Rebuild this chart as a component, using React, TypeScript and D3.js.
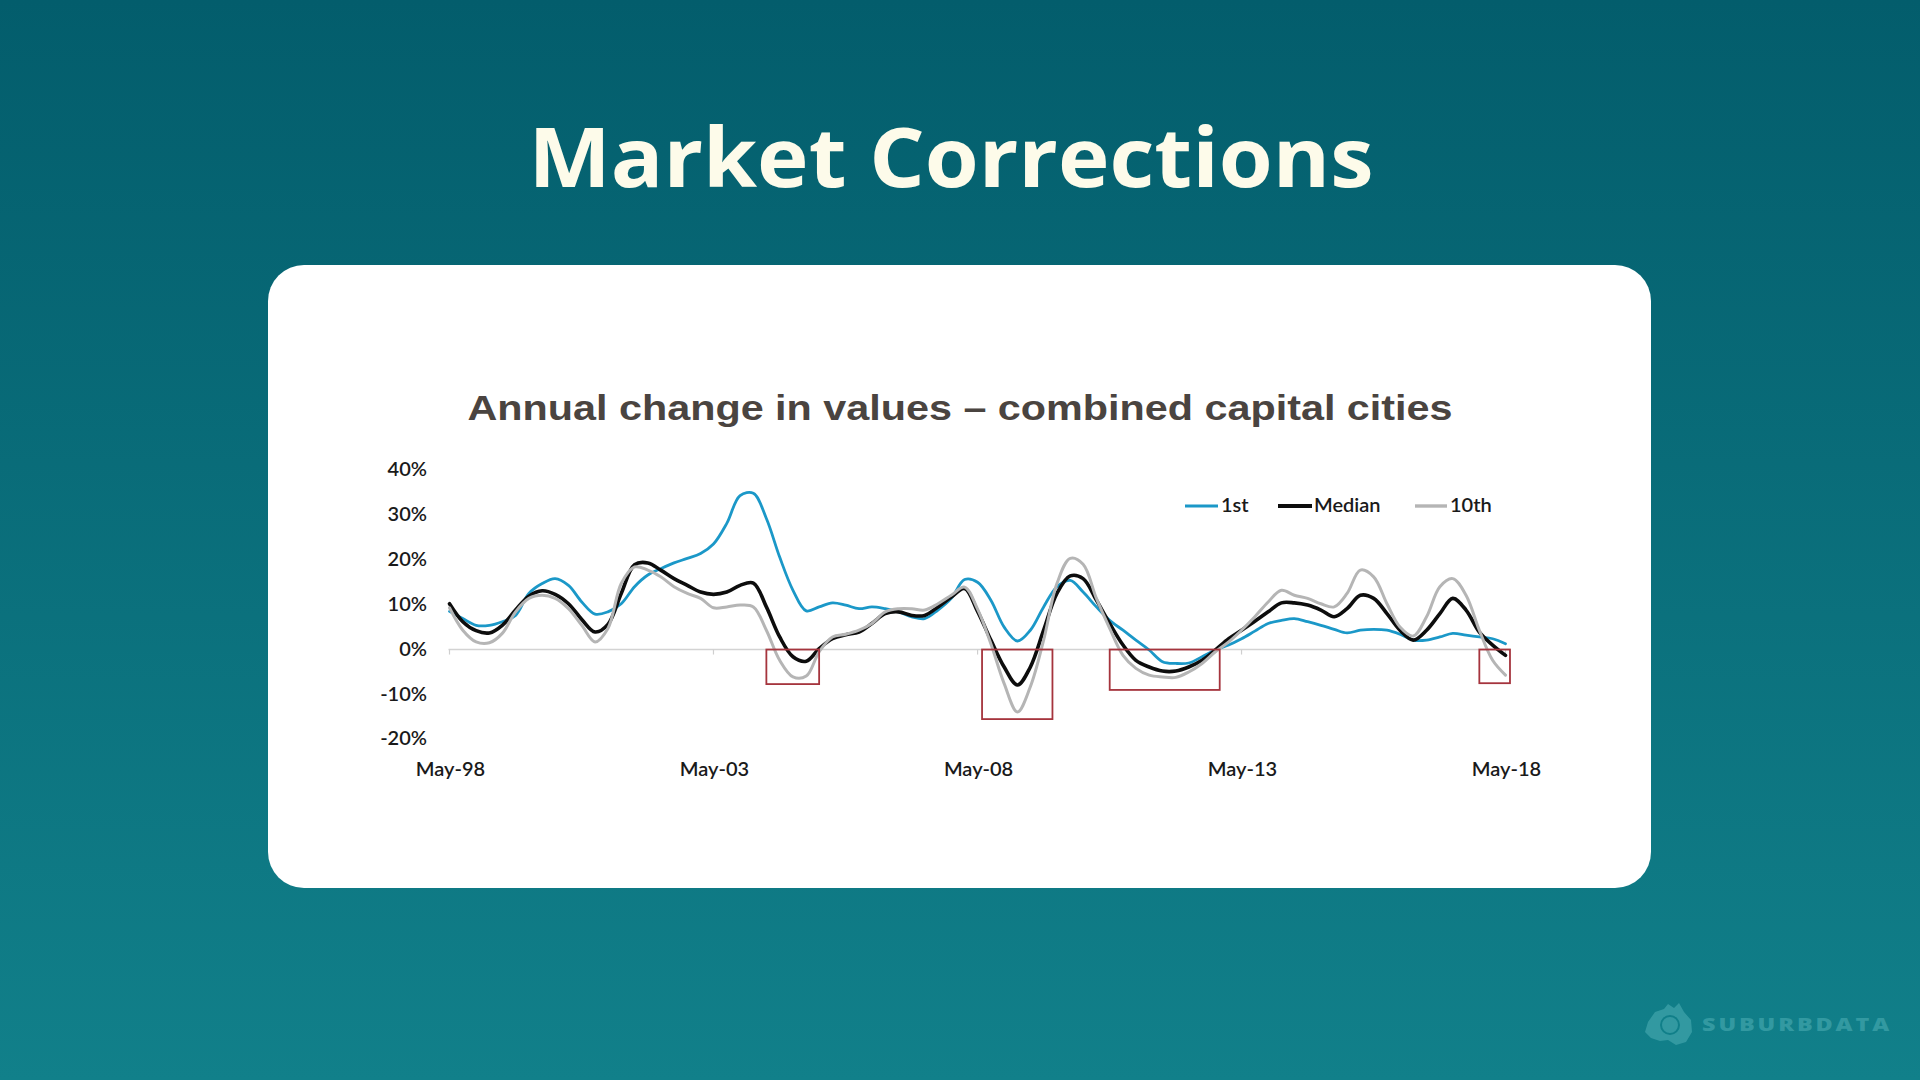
import React from "react";
import * as d3 from "d3";

// ---- data (quarterly, annual % change) ----
const dates: string[] = [
  "1998-05","1998-08","1998-11",
  "1999-02","1999-05","1999-08","1999-11",
  "2000-02","2000-05","2000-08","2000-11",
  "2001-02","2001-05","2001-08","2001-11",
  "2002-02","2002-05","2002-08","2002-11",
  "2003-02","2003-05","2003-08","2003-11",
  "2004-02","2004-05","2004-08","2004-11",
  "2005-02","2005-05","2005-08","2005-11",
  "2006-02","2006-05","2006-08","2006-11",
  "2007-02","2007-05","2007-08","2007-11",
  "2008-02","2008-05","2008-08","2008-11",
  "2009-02","2009-05","2009-08","2009-11",
  "2010-02","2010-05","2010-08","2010-11",
  "2011-02","2011-05","2011-08","2011-11",
  "2012-02","2012-05","2012-08","2012-11",
  "2013-02","2013-05","2013-08","2013-11",
  "2014-02","2014-05","2014-08","2014-11",
  "2015-02","2015-05","2015-08","2015-11",
  "2016-02","2016-05","2016-08","2016-11",
  "2017-02","2017-05","2017-08","2017-11",
  "2018-02","2018-05",
];

const first: number[] = [
  8.5, 6.9, 5.4, 5.4, 6.2, 7.6, 12.5, 14.7, 15.8, 14.3, 10.6, 7.9, 8.4, 10.2, 14.0, 16.6,
  18.0, 19.3, 20.3, 21.4, 23.5, 28.1, 34.3, 34.8, 29.2, 20.6, 13.2, 8.6, 9.5, 10.4, 9.9, 9.1,
  9.5, 9.1, 8.4, 7.3, 6.9, 8.8, 11.4, 15.6, 15.0, 11.0, 5.0, 1.9, 4.3, 9.5, 14.0, 15.4,
  12.8, 9.5, 6.5, 4.3, 2.1, -0.1, -2.7, -3.1, -3.0, -1.6, -0.1, 1.0, 2.4, 4.1, 5.8, 6.5,
  6.9, 6.2, 5.4, 4.5, 3.7, 4.3, 4.5, 4.3, 3.4, 2.1, 2.1, 2.8, 3.6, 3.2, 2.8, 2.4, 1.3,
];

const median: number[] = [
  10.2, 6.2, 4.2, 3.7, 5.4, 8.8, 11.9, 13.1, 12.3, 10.2, 6.7, 3.9, 5.6, 12.5, 18.9, 19.3,
  17.7, 15.8, 14.3, 12.8, 12.3, 12.8, 14.3, 14.8, 9.5, 2.8, -1.6, -2.6, 0.2, 2.4, 3.3, 3.9,
  5.8, 8.0, 8.4, 7.6, 7.6, 9.5, 11.7, 13.6, 8.5, 2.1, -3.9, -7.9, -3.9, 4.3, 12.5, 16.4,
  15.8, 11.0, 5.8, 1.0, -2.4, -3.9, -4.8, -4.8, -3.9, -2.4, -0.1, 2.4, 4.3, 6.3, 8.4, 10.4,
  10.4, 9.9, 8.8, 7.3, 9.1, 12.1, 11.4, 8.0, 4.3, 2.1, 4.3, 8.0, 11.4, 8.8, 3.9, 1.0, -1.3,
];

const tenth: number[] = [
  9.3, 4.3, 1.7, 1.5, 3.6, 8.4, 11.4, 12.1, 11.4, 9.1, 5.4, 1.7, 4.7, 14.7, 18.4, 17.7,
  16.2, 14.0, 12.5, 11.4, 9.3, 9.5, 9.9, 9.5, 4.3, -2.4, -6.1, -5.9, -0.5, 2.8, 3.4, 4.3,
  5.8, 8.4, 9.1, 9.1, 8.8, 10.2, 12.1, 13.9, 9.0, 1.3, -7.6, -13.9, -8.3, 2.1, 14.7, 20.3,
  19.0, 11.4, 4.7, -1.3, -4.2, -5.7, -6.1, -6.2, -5.0, -3.1, -0.5, 1.7, 4.3, 7.3, 10.6, 13.2,
  12.1, 11.4, 10.2, 9.5, 12.5, 17.7, 16.2, 10.2, 5.0, 3.0, 7.3, 14.0, 15.8, 12.1, 4.3, -2.4, -5.7,
];

const xTickDates: string[] = ["1998-05", "2003-05", "2008-05", "2013-05", "2018-05"];
const xTickLabels: string[] = ["May-98", "May-03", "May-08", "May-13", "May-18"];
const yTicks: number[] = [40, 30, 20, 10, 0, -10, -20];

// correction periods highlighted with boxes
const corrStart: string[] = ["2004-05", "2008-06", "2010-11", "2017-11"];
const corrEnd: string[] = ["2005-05", "2009-10", "2012-12", "2018-06"];
const corrLow: number[] = [-7.7, -15.5, -9.0, -7.5];

const seriesNames: string[] = ["1st", "Median", "10th"];
const seriesColors: string[] = ["#1b98c8", "#0d0d0d", "#b5b5b5"];
const seriesWidths: number[] = [2.8, 3.6, 3.0];

const parse = d3.timeParse("%Y-%m");

export default function App() {
  const W = 1920;
  const H = 1080;

  const x = d3
    .scaleTime()
    .domain([parse("1998-05") as Date, parse("2018-05") as Date])
    .range([449.5, 1505.5]);
  const y = d3.scaleLinear().domain([-20, 40]).range([739.3, 470]);

  const allSeries = [first, median, tenth];
  const line = d3
    .line<{ d: Date; v: number }>()
    .x((p) => x(p.d))
    .y((p) => y(p.v))
    .curve(d3.curveCatmullRom.alpha(0.5));

  const paths = allSeries.map((vals) =>
    line(dates.map((s, i) => ({ d: parse(s) as Date, v: vals[i] })))
  );

  const font = "Lato, 'Open Sans', sans-serif";
  const labelWeight = 600;

  // legend layout
  const legendItems = [
    { x1: 1185, x2: 1218, tx: 1221 },
    { x1: 1278, x2: 1312, tx: 1314 },
    { x1: 1415, x2: 1447, tx: 1450 },
  ];
  const legendY = 506;

  return (
    <svg
      width={W}
      height={H}
      style={{ position: "absolute", left: 0, top: 0, display: "block" }}
    >
      <defs>
        <linearGradient id="bg" x1="0" y1="0" x2="0" y2="1">
          <stop offset="0%" stopColor="#035d6c" />
          <stop offset="100%" stopColor="#11808a" />
        </linearGradient>
      </defs>
      <rect x={0} y={0} width={W} height={H} fill="url(#bg)" />

      <text
        x={951}
        y={187}
        textAnchor="middle"
        fontFamily="'Open Sans', sans-serif"
        fontWeight={700}
        fontSize={82}
        fill="#fdfbea"
        textLength={845}
        lengthAdjust="spacingAndGlyphs"
      >
        Market Corrections
      </text>

      <rect x={268} y={265} width={1383} height={623} rx={36} ry={36} fill="#ffffff" />

      <text
        x={960}
        y={420}
        textAnchor="middle"
        fontFamily="'Liberation Sans', Arial, sans-serif"
        fontWeight={700}
        fontSize={35}
        fill="#4a4440"
        textLength={985}
        lengthAdjust="spacingAndGlyphs"
      >
        Annual change in values – combined capital cities
      </text>

      {/* y labels */}
      {yTicks.map((t) => (
        <text
          key={t}
          x={427}
          y={y(t) + 1}
          textAnchor="end"
          dominantBaseline="middle"
          fontFamily={font}
          fontWeight={labelWeight}
          fontSize={20}
          fill="#1a1a1a"
        >
          {t + "%"}
        </text>
      ))}

      {/* zero axis */}
      <line x1={448.5} x2={1510} y1={y(0)} y2={y(0)} stroke="#d3d3d3" strokeWidth={1.5} />
      {xTickDates.map((s, i) => {
        const xx = x(parse(s) as Date);
        return (
          <g key={s}>
            <line x1={xx} x2={xx} y1={y(0)} y2={y(0) + 5} stroke="#cfcfcf" strokeWidth={1.2} />
            <text
              x={xx + 1}
              y={771}
              textAnchor="middle"
              dominantBaseline="middle"
              fontFamily={font}
              fontWeight={labelWeight}
              fontSize={20}
              fill="#1a1a1a"
            >
              {xTickLabels[i]}
            </text>
          </g>
        );
      })}

      {/* series */}
      {paths.map((p, i) => (
        <path
          key={seriesNames[i]}
          d={p || ""}
          fill="none"
          stroke={seriesColors[i]}
          strokeWidth={seriesWidths[i]}
          strokeLinejoin="round"
          strokeLinecap="round"
        />
      ))}

      {/* correction boxes */}
      {corrStart.map((s, i) => {
        const x0 = x(parse(s) as Date);
        const x1 = x(parse(corrEnd[i]) as Date);
        return (
          <rect
            key={s}
            x={x0}
            y={y(0)}
            width={x1 - x0}
            height={y(corrLow[i]) - y(0)}
            fill="none"
            stroke="#a5343d"
            strokeWidth={1.8}
          />
        );
      })}

      {/* legend */}
      {legendItems.map((l, i) => (
        <g key={seriesNames[i]}>
          <line
            x1={l.x1}
            x2={l.x2}
            y1={legendY}
            y2={legendY}
            stroke={seriesColors[i]}
            strokeWidth={seriesWidths[i] + 0.4}
          />
          <text
            x={l.tx}
            y={legendY + 1}
            dominantBaseline="middle"
            fontFamily={font}
            fontWeight={labelWeight}
            fontSize={20}
            fill="#1a1a1a"
          >
            {seriesNames[i]}
          </text>
        </g>
      ))}

      {/* watermark */}
      <g opacity={0.55} fill="#4fb0b6">
        <path d="M1648,1022 L1655,1012 L1664,1009 L1668,1004 L1674,1008 L1679,1003 L1684,1012 L1691,1020 L1692,1032 L1686,1042 L1676,1045 L1668,1040 L1660,1041 L1651,1038 L1645,1032 Z" />
        <circle cx={1670} cy={1025} r={9} fill="none" stroke="#11808a" strokeWidth={2} />
        <text
          x={1702}
          y={1031}
          fontFamily="'Open Sans', sans-serif"
          fontWeight={800}
          fontSize={18}
          letterSpacing={2.2}
          textLength={190}
          lengthAdjust="spacingAndGlyphs"
        >
          SUBURBDATA
        </text>
      </g>
    </svg>
  );
}
